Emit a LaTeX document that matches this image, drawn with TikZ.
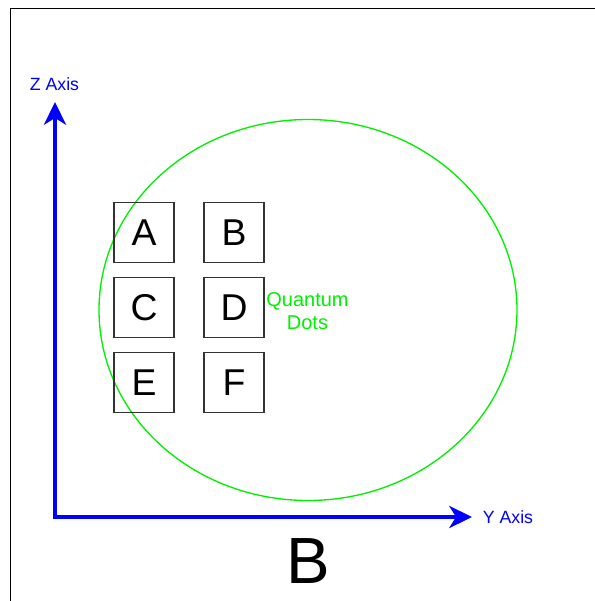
\documentclass[tikz,border=0pt]{standalone}
\usepackage{fontspec}
\setmainfont{Liberation Sans}
\usetikzlibrary{positioning, arrows.meta, shapes.geometric}
\definecolor{axisblue}{RGB}{0,0,255}
\definecolor{dotgreen}{RGB}{0,240,0}
\definecolor{cellgray}{RGB}{51,51,51}

\begin{document}
\begin{tikzpicture}[x=0.75pt, y=-0.75pt,
    cell/.style={draw=cellgray, line width=1.1pt, minimum size=45pt,
      inner sep=0pt, outer sep=0pt, font=\fontsize{28}{30}\selectfont},
    axislabel/.style={text=axisblue, font=\fontsize{13.3}{16}\selectfont},
    axisline/.style={draw=axisblue, line width=3.4pt, line join=miter,
      {Stealth[length=17pt, width=16.5pt, inset=5pt]}-{Stealth[length=17pt, width=16.5pt, inset=5pt]}}]
        \useasboundingbox (0,0) rectangle (595,601);
        % frame
        \draw[line width=1.4pt] (10.5,601) -- (10.5,8.5) -- (595,8.5);
        % quantum dot region
        \node[ellipse, draw=dotgreen, line width=1pt, inner sep=0pt,
          minimum width=313.5pt, minimum height=285.75pt] (dots) at (308,310) {};
        \node[text=dotgreen, align=center, font=\fontsize{15}{17}\selectfont]
          (dotslabel) at (307.5,311) {Quantum\\Dots};
        % cells
        \node[cell] (A) at (144,232.5) {A};
        \node[cell, right=22.5pt of A] (B) {B};
        \node[cell, below=11.25pt of A] (C) {C};
        \node[cell, right=22.5pt of C] (D) {D};
        \node[cell, below=11.25pt of C] (E) {E};
        \node[cell, right=22.5pt of E] (F) {F};
        % axes
        \coordinate (origin) at (55,517);
        \coordinate (ztip) at (55,102);
        \coordinate (ytip) at (472,517);
        \draw[axisline] (ztip) -- (origin) -- (ytip);
        \node[axislabel] (zlabel) at (54.5,84) {Z Axis};
        \node[axislabel] (ylabel) at (508,517) {Y Axis};
        % field label
        \node[font=\fontsize{49}{55}\selectfont] (field) at (308,561) {B};
\end{tikzpicture}
\end{document}
